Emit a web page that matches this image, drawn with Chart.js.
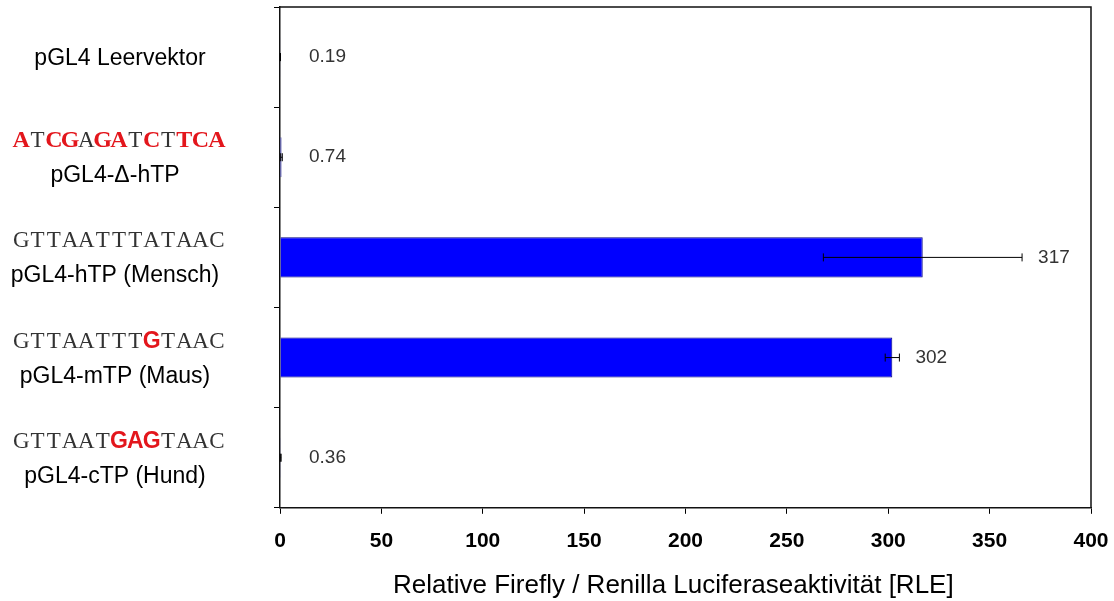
<!DOCTYPE html>
<html><head><meta charset="utf-8">
<script src="https://cdn.jsdelivr.net/npm/chart.js@4.4.1/dist/chart.umd.min.js"></script>
<style>html,body{margin:0;padding:0;background:#fff;} canvas{display:block;}</style>
</head><body>
<canvas id="c" width="1114" height="601"></canvas>
<script>
// ---- data ----
const categories = ['pGL4 Leervektor', 'pGL4-\u0394-hTP', 'pGL4-hTP (Mensch)', 'pGL4-mTP (Maus)', 'pGL4-cTP (Hund)'];
const sequences = ['', 'ATCGAGATCTTCA', 'GTTAATTTATAAC', 'GTTAATTTGTAAC', 'GTTAATGAGTAAC'];
const highlighted = ['', '1011011010111', '0000000000000', '0000000010000', '0000001110000'];
const values = [0.19, 0.74, 317, 302, 0.36];
const errors = [0.05, 0.4, 49, 3.5, 0.2];
const valueLabels = ['0.19', '0.74', '317', '302', '0.36'];
const xTicks = [0, 50, 100, 150, 200, 250, 300, 350, 400];
const axisTitle = 'Relative Firefly / Renilla Luciferaseaktivit\u00e4t [RLE]';

// ---- styles ----
const SANS = '"Liberation Sans", Arial, sans-serif';
const SERIF = '"Liberation Serif", "Times New Roman", serif';
const RED = '#E3161C';
const redFontForRow = [null, 'bold 24px ' + SERIF, null, 'bold 23px ' + SANS, 'bold 23px ' + SANS];

const framePlugin = {
  id: 'frame',
  afterDraw(chart) {
    const {ctx, chartArea: a} = chart;
    ctx.save();
    ctx.strokeStyle = '#111';
    ctx.lineWidth = 1.5;
    ctx.beginPath();
    ctx.moveTo(a.left, a.top);
    ctx.lineTo(a.right, a.top);
    ctx.lineTo(a.right, a.bottom);
    ctx.stroke();
    // x-axis title
    ctx.fillStyle = '#000';
    ctx.font = '26px ' + SANS;
    ctx.textAlign = 'center';
    ctx.textBaseline = 'middle';
    ctx.fillText(axisTitle, a.left + (a.right - a.left) * 0.485, a.bottom + 78);
    ctx.restore();
  }
};

const errorPlugin = {
  id: 'errorBars',
  afterDatasetsDraw(chart) {
    const ctx = chart.ctx, xs = chart.scales.x;
    const meta = chart.getDatasetMeta(0);
    ctx.save();
    ctx.strokeStyle = '#000';
    ctx.lineWidth = 1;
    meta.data.forEach((bar, i) => {
      const y = bar.y;
      const x1 = xs.getPixelForValue(values[i] - errors[i]);
      const x2 = xs.getPixelForValue(values[i] + errors[i]);
      ctx.beginPath();
      ctx.moveTo(x1, y); ctx.lineTo(x2, y);
      ctx.moveTo(x1, y - 4); ctx.lineTo(x1, y + 4);
      ctx.moveTo(x2, y - 4); ctx.lineTo(x2, y + 4);
      ctx.stroke();
    });
    ctx.restore();
  }
};

const valueLabelPlugin = {
  id: 'valueLabels',
  afterDatasetsDraw(chart) {
    const ctx = chart.ctx, xs = chart.scales.x, a = chart.chartArea;
    const meta = chart.getDatasetMeta(0);
    ctx.save();
    ctx.font = '19px ' + SANS;
    ctx.fillStyle = '#333';
    ctx.textAlign = 'left';
    ctx.textBaseline = 'middle';
    meta.data.forEach((bar, i) => {
      const x = Math.max(xs.getPixelForValue(values[i] + errors[i]) + 16, a.left + 29);
      ctx.fillText(valueLabels[i], x, bar.y);
    });
    ctx.restore();
  }
};

const leftLabelPlugin = {
  id: 'leftLabels',
  afterDraw(chart) {
    const ctx = chart.ctx, ys = chart.scales.y;
    ctx.save();
    ctx.textAlign = 'center';
    ctx.textBaseline = 'alphabetic';
    categories.forEach((name, i) => {
      const c = ys.getPixelForValue(i);
      ctx.fillStyle = '#000';
      ctx.font = '23px ' + SANS;
      const seq = sequences[i];
      if (!seq) { ctx.fillText(name, 120, c + 8); return; }
      ctx.fillText(name, 115, c + 25);
      const adv = 16.3, x0 = 119 - seq.length * adv / 2;
      for (let k = 0; k < seq.length; k++) {
        const hot = highlighted[i][k] === '1';
        ctx.font = hot ? redFontForRow[i] : '23px ' + SERIF;
        ctx.fillStyle = hot ? RED : '#333';
        ctx.fillText(seq[k], x0 + adv * (k + 0.5), c - 10);
      }
    });
    ctx.restore();
  }
};

new Chart(document.getElementById('c'), {
  type: 'bar',
  data: {
    labels: categories,
    datasets: [{
      data: values,
      backgroundColor: '#0000FF',
      borderColor: '#000080',
      borderWidth: 1,
      barPercentage: 0.4,
      categoryPercentage: 1.0
    }]
  },
  options: {
    indexAxis: 'y',
    responsive: false,
    animation: false,
    layout: { padding: { left: 274, right: 23, top: 7, bottom: 32 } },
    plugins: { legend: { display: false }, tooltip: { enabled: false } },
    scales: {
      y: {
        type: 'category',
        ticks: { display: false },
        grid: { drawOnChartArea: false, drawTicks: true, tickLength: 6, color: '#000', lineWidth: 1 },
        border: { display: true, color: '#111', width: 1.5 }
      },
      x: {
        type: 'linear',
        min: 0, max: 400,
        afterBuildTicks: s => { s.ticks = xTicks.map(v => ({ value: v })); },
        afterFit: s => { s.paddingRight = 18; },
        ticks: { font: { family: SANS, size: 21, weight: 'bold' }, color: '#000', padding: 15, maxRotation: 0 },
        grid: { drawOnChartArea: false, drawTicks: true, tickLength: 6, color: '#000', lineWidth: 1 },
        border: { display: true, color: '#111', width: 1.5 },
        title: { display: false }
      }
    }
  },
  plugins: [framePlugin, errorPlugin, valueLabelPlugin, leftLabelPlugin]
});
</script>
</body></html>
